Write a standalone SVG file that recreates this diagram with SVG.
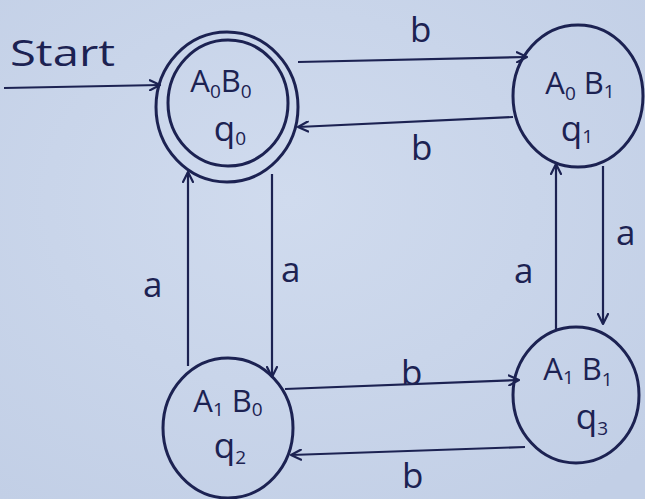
<svg xmlns="http://www.w3.org/2000/svg" width="645" height="499" viewBox="0 0 645 499">
  <defs>
    <radialGradient id="paper" cx="45%" cy="40%" r="75%">
      <stop offset="0" stop-color="#d0dbee"/>
      <stop offset="1" stop-color="#c2cfe6"/>
    </radialGradient>
    <marker id="arrow" viewBox="0 0 12 12" refX="11" refY="6" markerWidth="12" markerHeight="12" markerUnits="userSpaceOnUse" orient="auto">
      <path d="M1,1 L11,6 L1,11" fill="none" stroke="#1c2252" stroke-width="2.2" stroke-linecap="round" stroke-linejoin="round"/>
    </marker>
    <style>
      .ring { fill: none; stroke: #1c2252; stroke-width: 3; }
      .edge { fill: none; stroke: #1c2252; stroke-width: 2.2; marker-end: url(#arrow); }
      .txt { fill: #1c2252; font-family: "Open Sans", "Liberation Sans", sans-serif; }
      .state { font-size: 31px; }
      .q { font-size: 35px; }
      .sub { font-size: 19px; }
      .label { font-size: 35px; }
    </style>
  </defs>

  <rect width="645" height="499" fill="url(#paper)"/>

  <!-- start marker -->
  <text class="txt" x="10" y="66" font-size="36" textLength="105" lengthAdjust="spacingAndGlyphs">Start</text>

  <!-- transitions -->
  <g id="connectors">
    <path class="edge" d="M4,88 L160,85"/>
    <path class="edge" d="M298,62 L527,57"/>
    <path class="edge" d="M513,117 L298,127"/>
    <path class="edge" d="M272,174 L272,377"/>
    <path class="edge" d="M188,366 L188,172"/>
    <path class="edge" d="M603,166 L603,324"/>
    <path class="edge" d="M556,330 L556,164"/>
    <path class="edge" d="M285,389 L519,380"/>
    <path class="edge" d="M525,447 L291,455"/>
  </g>

  <!-- transition labels -->
  <g id="labels" class="txt label">
    <text x="410" y="42">b</text>
    <text x="411" y="160">b</text>
    <text x="143" y="297">a</text>
    <text x="281" y="282">a</text>
    <text x="514" y="283">a</text>
    <text x="616" y="245">a</text>
    <text x="401" y="385">b</text>
    <text x="402" y="488">b</text>
  </g>

  <!-- q0: start and accepting state -->
  <g id="q0">
    <ellipse class="ring" cx="227" cy="107" rx="71" ry="75"/>
    <ellipse class="ring" cx="228" cy="103" rx="60" ry="63"/>
    <text class="txt state" x="221" y="92" text-anchor="middle">A<tspan class="sub" dy="6">0</tspan><tspan dy="-6">B</tspan><tspan class="sub" dy="6">0</tspan></text>
    <text class="txt q" x="230" y="141" text-anchor="middle">q<tspan class="sub" dy="4">0</tspan></text>
  </g>

  <g id="q1">
    <ellipse class="ring" cx="578" cy="96" rx="65" ry="71"/>
    <text class="txt state" x="580" y="94" text-anchor="middle">A<tspan class="sub" dy="6">0</tspan><tspan dy="-6"> B</tspan><tspan class="sub" dy="4">1</tspan></text>
    <text class="txt q" x="577" y="141" text-anchor="middle">q<tspan class="sub" dy="2">1</tspan></text>
  </g>

  <g id="q2">
    <ellipse class="ring" cx="228" cy="428" rx="65" ry="70"/>
    <text class="txt state" x="228" y="412" text-anchor="middle">A<tspan class="sub" dy="4">1</tspan><tspan dy="-4"> B</tspan><tspan class="sub" dy="4">0</tspan></text>
    <text class="txt q" x="230" y="458" text-anchor="middle">q<tspan class="sub" dy="6">2</tspan></text>
  </g>

  <g id="q3">
    <ellipse class="ring" cx="576" cy="395" rx="63" ry="68"/>
    <text class="txt state" x="578" y="380" text-anchor="middle">A<tspan class="sub" dy="4">1</tspan><tspan dy="-4"> B</tspan><tspan class="sub" dy="6">1</tspan></text>
    <text class="txt q" x="592" y="429" text-anchor="middle">q<tspan class="sub" dy="6">3</tspan></text>
  </g>
</svg>
